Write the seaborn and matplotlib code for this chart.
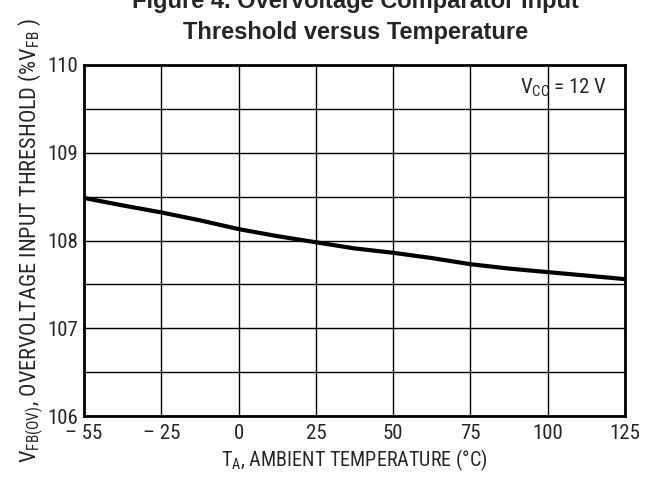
import matplotlib
matplotlib.use('Agg')
import matplotlib.pyplot as plt
from matplotlib import font_manager
import numpy as np
import pandas as pd
import seaborn as sns

# Curve values (temperature in degC, threshold in %VFB)
temps = [-55, -40, -25, -12.5, 0, 12.5, 25, 37.5, 50, 62.5, 75, 87.5, 100, 112.5, 125]
threshold = [108.485, 108.40, 108.32, 108.23, 108.13, 108.05, 107.98, 107.91, 107.86, 107.80, 107.73, 107.68, 107.64, 107.60, 107.56]

# the datasheet axis spaces the tick labels evenly (-55 sits one division left of -25)
x_ticks = [-55, -25, 0, 25, 50, 75, 100, 125]
x_labels = ['\u2013 55', '\u2013 25', '0', '25', '50', '75', '100', '125']
y_ticks = [106, 107, 108, 109, 110]

installed = {f.name for f in font_manager.fontManager.ttflist}
narrow = [f for f in ['Roboto Condensed', 'Liberation Sans Narrow', 'Arial Narrow',
                      'Open Sans Condensed', 'Liberation Sans'] if f in installed]
narrow = narrow[:1] + ['DejaVu Sans']
condensed = narrow[0] != 'Liberation Sans'
fs = 15 if condensed else 12.5

sns.set_style('white')
plt.rcParams['font.family'] = narrow
plt.rcParams['mathtext.default'] = 'regular'

pos = np.interp(temps, x_ticks, np.arange(len(x_ticks)))
df = pd.DataFrame({'pos': pos, 'thr': threshold})

fig = plt.figure(figsize=(6.53, 4.8), dpi=100)
ax = fig.add_axes([0.1286, 0.1333, 0.8285, 0.7313])

# grid
for xv in range(len(x_ticks)):
    ax.axvline(xv, color='black', linewidth=1.0, zorder=1)
for yv in np.arange(106, 110.01, 0.5):
    ax.axhline(yv, color='black', linewidth=1.0, zorder=1)

sns.lineplot(data=df, x='pos', y='thr', color='black', linewidth=3, ax=ax, zorder=3)

ax.set_xlim(0, len(x_ticks) - 1)
ax.set_ylim(106, 110)
ax.set_xticks(range(len(x_ticks)))
ax.set_xticklabels(x_labels)
ax.set_yticks(y_ticks)
ax.tick_params(axis='x', labelsize=fs, length=0, pad=6)
ax.tick_params(axis='y', labelsize=fs, length=0, pad=4)
for s in ax.spines.values():
    s.set_color('black')
    s.set_linewidth(2)

ax.set_xlabel('$T_A$, AMBIENT TEMPERATURE (\u00b0C)', fontsize=fs - 0.5, labelpad=3)
ax.set_ylabel('$V_{FB(OV)}$, OVERVOLTAGE INPUT THRESHOLD (%$V_{FB}$ )', fontsize=fs + 1, labelpad=1)

ax.text(0.967, 0.934, '$V_{CC}$ = 12 V', fontsize=fs, ha='right', va='center',
        transform=ax.transAxes, zorder=4)

fig.text(0.545, 1 - 38.5 / 480, 'Figure 4. Overvoltage Comparator Input\nThreshold versus Temperature',
         ha='center', va='baseline', fontsize=17, fontweight='bold',
         family=['Liberation Sans', 'DejaVu Sans'], linespacing=1.4)

plt.savefig('out.png', dpi=100)
plt.close()
